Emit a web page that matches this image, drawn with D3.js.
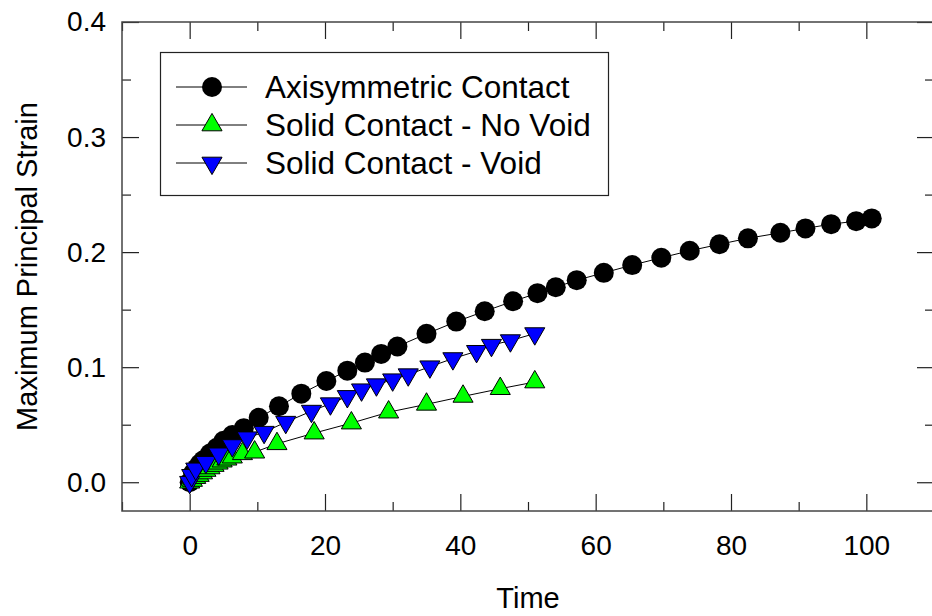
<!DOCTYPE html>
<html>
<head>
<meta charset="utf-8">
<script src="https://cdn.jsdelivr.net/npm/d3@7"></script>
<style>
  body { margin: 0; background: #fff; }
  svg text { font-family: "Liberation Sans", Arial, sans-serif; fill: #000; }
</style>
</head>
<body>
<div id="chart"></div>
<script>
// ---- data ----
const axiTime = [0, 0.5, 1, 1.5, 2, 3, 4, 5, 6.3, 8, 10.2, 13.2, 16.5, 20.2, 23.3, 25.9, 28.3, 30.7,
  35, 39.4, 43.6, 47.8, 51.4, 54.1, 57.2, 61.2, 65.4, 69.7, 73.9, 78.3, 82.5, 87.3, 91, 94.8, 98.5, 100.8];
const axiStrain = [0, 0.008, 0.012, 0.016, 0.019, 0.025, 0.030, 0.036, 0.041, 0.047, 0.056, 0.066, 0.077, 0.088,
  0.097, 0.104, 0.1115, 0.118, 0.129, 0.1396, 0.1486, 0.1573, 0.1643, 0.1695, 0.1756, 0.182, 0.1887, 0.1951,
  0.2012, 0.2068, 0.212, 0.2168, 0.2206, 0.2243, 0.2269, 0.2293];

const noVoidTime = [0, 0.4, 0.9, 1.4, 1.9, 2.4, 3, 3.6, 4.2, 4.8, 5.5, 6.3, 7.8, 9.6, 12.9, 18.4, 23.9,
  29.4, 35, 40.4, 45.9, 51];
const noVoidStrain = [0, 0.0015, 0.004, 0.0058, 0.008, 0.0102, 0.0124, 0.0145, 0.0165, 0.0183, 0.02, 0.0218,
  0.0247, 0.0261, 0.0334, 0.0427, 0.0514, 0.0609, 0.0677, 0.0746, 0.0813, 0.0871];

const voidTime = [0, 0.3, 0.9, 2.4, 4.3, 6.3, 8.5, 11, 14.2, 18, 20.8, 23.3, 25.4, 27.6, 30, 32.3, 35.5,
  38.9, 42.4, 44.6, 47.4, 51];
const voidStrain = [0, 0.006, 0.0116, 0.0174, 0.0247, 0.0319, 0.0387, 0.0435, 0.0522, 0.0618, 0.0683, 0.0746,
  0.0804, 0.0848, 0.0891, 0.0935, 0.1004, 0.1075, 0.1138, 0.1191, 0.1231, 0.1292];

const seriesNames = ["Axisymmetric Contact", "Solid Contact - No Void", "Solid Contact - Void"];
const xTicks = [0, 20, 40, 60, 80, 100];
const yTicks = [0, 0.1, 0.2, 0.3, 0.4];
const xMinorTicks = [-10, 10, 30, 50, 70, 90, 110];
const yMinorTicks = [0.05, 0.15, 0.25, 0.35];

const W = 932, H = 616;
// the frame runs a little past the right edge of the picture
const margin = { left: 122, top: 22, right: -2, bottom: 105 };
const tickFont = 28, titleFont = 29, legendFont = 31.5;

const svg = d3.select("#chart").append("svg")
  .attr("width", W).attr("height", H);

const x = d3.scaleLinear().domain([-10, 110]).range([margin.left, W - margin.right]);
const y = d3.scaleLinear().domain([-0.025, 0.4]).range([H - margin.bottom, margin.top]);

const series = [
  { name: seriesNames[0], t: axiTime, s: axiStrain, shape: "circle", fill: "#000" },
  { name: seriesNames[1], t: noVoidTime, s: noVoidStrain, shape: "up", fill: "#00ff00" },
  { name: seriesNames[2], t: voidTime, s: voidStrain, shape: "down", fill: "#0000ff" }
];

const triPath = d3.symbol().type(d3.symbolTriangle).size(175)();

function drawMarker(g, shape, fill) {
  if (shape === "circle") {
    g.append("circle").attr("r", 10).attr("fill", fill);
  } else {
    g.append("path").attr("d", triPath)
      .attr("transform", shape === "down" ? "rotate(180)" : null)
      .attr("fill", fill).attr("stroke", "#000").attr("stroke-width", 1);
  }
}

const axisStyle = sel => {
  sel.select(".domain").remove();
  sel.selectAll("line").attr("stroke", "#222").attr("stroke-width", 1.2);
  sel.selectAll("text").attr("font-size", tickFont)
    .style("font-family", "Liberation Sans, Arial, sans-serif");
};

const bottomY = y.range()[0], topY = y.range()[1];
const leftX = x.range()[0], rightX = x.range()[1];

// minor ticks (inward, all four sides)
svg.append("g").attr("transform", `translate(0,${bottomY})`)
  .call(d3.axisBottom(x).tickValues(xMinorTicks).tickSize(-9).tickFormat("")).call(axisStyle);
svg.append("g").attr("transform", `translate(0,${topY})`)
  .call(d3.axisTop(x).tickValues(xMinorTicks).tickSize(-9).tickFormat("")).call(axisStyle);
svg.append("g").attr("transform", `translate(${leftX},0)`)
  .call(d3.axisLeft(y).tickValues(yMinorTicks).tickSize(-9).tickFormat("")).call(axisStyle);
svg.append("g").attr("transform", `translate(${rightX},0)`)
  .call(d3.axisRight(y).tickValues(yMinorTicks).tickSize(-9).tickFormat("")).call(axisStyle);

// major ticks with labels
svg.append("g").attr("transform", `translate(0,${bottomY})`)
  .call(d3.axisBottom(x).tickValues(xTicks).tickSize(-17).tickPadding(24).tickFormat(d3.format("d")))
  .call(axisStyle);
svg.append("g").attr("transform", `translate(0,${topY})`)
  .call(d3.axisTop(x).tickValues(xTicks).tickSize(-17).tickFormat("")).call(axisStyle);
svg.append("g").attr("transform", `translate(${leftX},0)`)
  .call(d3.axisLeft(y).tickValues(yTicks).tickSize(-17).tickPadding(16).tickFormat(d3.format(".1f")))
  .call(axisStyle);
svg.append("g").attr("transform", `translate(${rightX},0)`)
  .call(d3.axisRight(y).tickValues(yTicks).tickSize(-17).tickFormat("")).call(axisStyle);

// frame
svg.append("rect")
  .attr("x", leftX).attr("y", topY)
  .attr("width", rightX - leftX).attr("height", bottomY - topY)
  .attr("fill", "none").attr("stroke", "#444").attr("stroke-width", 1.5);

// axis titles
svg.append("text")
  .attr("x", (leftX + rightX) / 2).attr("y", 608)
  .attr("text-anchor", "middle").attr("font-size", titleFont).text("Time");
svg.append("text")
  .attr("transform", `translate(37,${(bottomY + topY) / 2}) rotate(-90)`)
  .attr("text-anchor", "middle").attr("font-size", titleFont).text("Maximum Principal Strain");

// ---- series ----
const plot = svg.append("g");
const line = d3.line().x(d => x(d[0])).y(d => y(d[1]));
series.forEach(sr => {
  const pts = sr.t.map((t, i) => [t, sr.s[i]]);
  const g = plot.append("g").attr("class", "series");
  g.append("path").datum(pts).attr("d", line)
    .attr("fill", "none").attr("stroke", "#000").attr("stroke-width", 1);
  g.selectAll(".pt").data(pts).enter().append("g")
    .attr("class", "pt")
    .attr("transform", d => `translate(${x(d[0])},${y(d[1])})`)
    .each(function() { drawMarker(d3.select(this), sr.shape, sr.fill); });
});

// ---- legend ----
const legend = svg.append("g");
legend.append("rect")
  .attr("x", 160.5).attr("y", 52.5).attr("width", 448).attr("height", 143)
  .attr("fill", "#fff").attr("stroke", "#222").attr("stroke-width", 1.2);
const rowY = [87, 125, 163];
series.forEach((sr, i) => {
  const row = legend.append("g").attr("transform", `translate(0,${rowY[i]})`);
  row.append("line").attr("x1", 176).attr("x2", 247)
    .attr("stroke", "#000").attr("stroke-width", 1);
  const m = row.append("g").attr("transform", "translate(212,0)");
  drawMarker(m, sr.shape, sr.fill);
  row.append("text").attr("x", 265).attr("dy", "0.35em")
    .attr("font-size", legendFont).text(sr.name);
});
</script>
</body>
</html>
